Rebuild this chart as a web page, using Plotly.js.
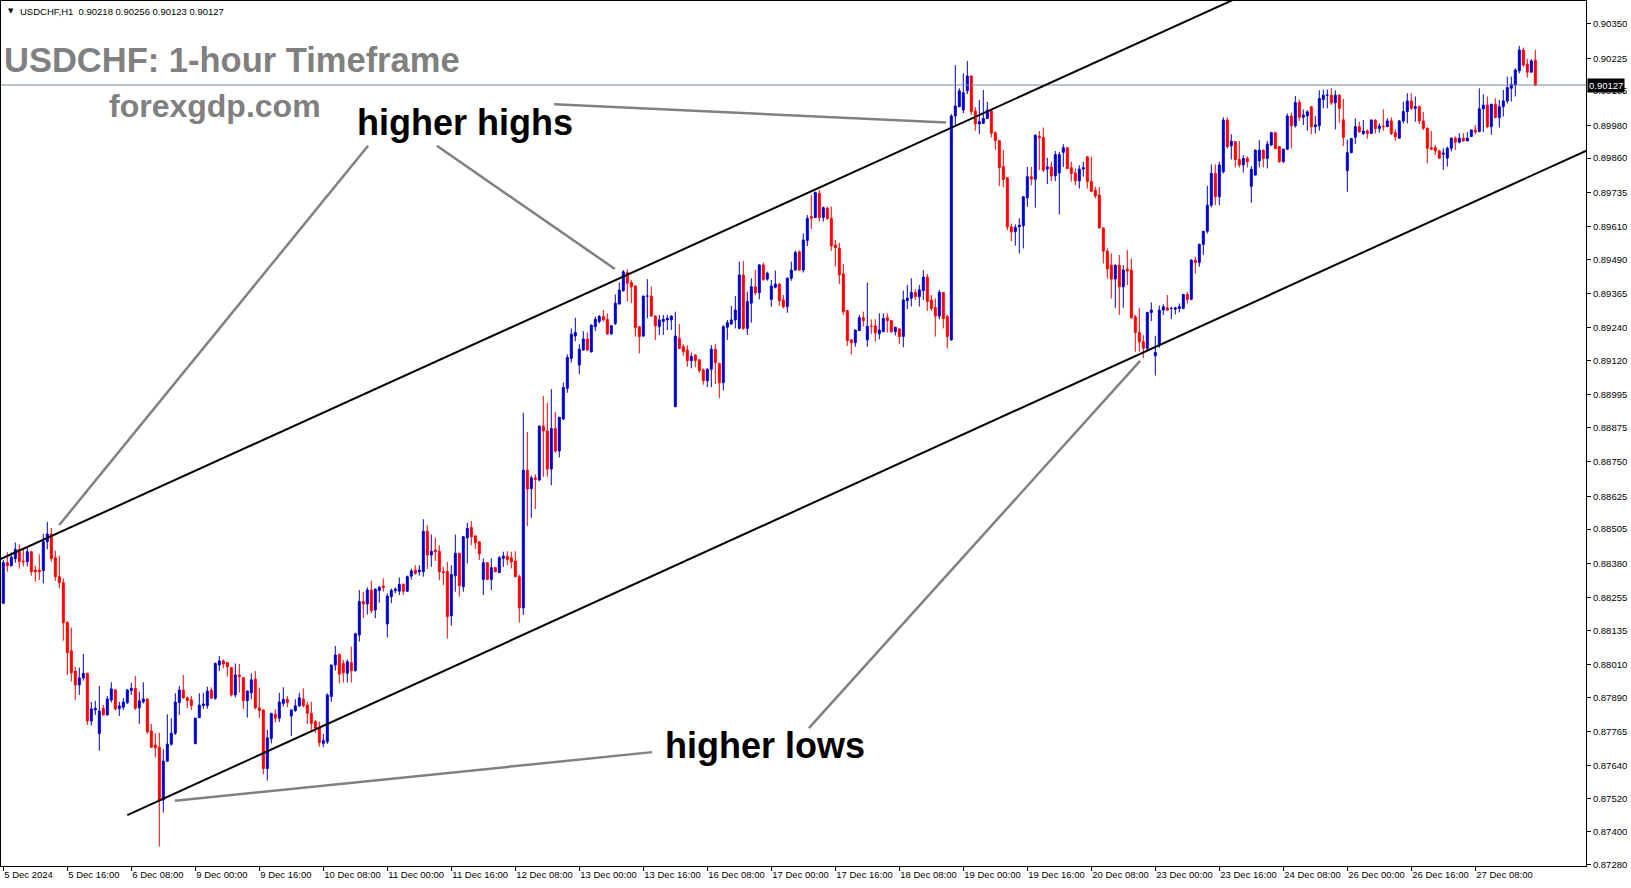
<!DOCTYPE html>
<html><head><meta charset="utf-8">
<script src="https://cdn.plot.ly/plotly-3.0.1.min.js"></script>
<style>html,body{margin:0;padding:0;background:#fff}#chart{width:1631px;height:888px}</style>
</head><body><div id="chart"></div>
<script>
// USDCHF H1 candles, 5 Dec 2024 00:00 -> 27 Dec 2024 23:00 (one entry per hourly bar)
const openP = [
.88234,.88382,.88371,.88397,.88431,.88387,.88386,.88422,.88355,.88355,.88353,.88459,.88487,.88400,.88331,.88309,
.88163,.88060,.87986,.87935,.87961,.87978,.87804,.87844,.87758,.87850,.87826,.87880,.87917,.87849,.87854,.87871,
.87915,.87923,.87852,.87874,.87884,.87767,.87716,.87708,.87515,.87657,.87719,.87759,.87871,.87917,.87889,.87881,
.87721,.87816,.87860,.87860,.87917,.87887,.88008,.88023,.88017,.87999,.87899,.87972,.87962,.87878,.87907,.87957,
.87852,.87844,.87630,.87740,.87828,.87814,.87868,.87883,.87822,.87842,.87859,.87884,.87862,.87832,.87801,.87781,
.87722,.87728,.87893,.88008,.88047,.88014,.87978,.88017,.87988,.88118,.88240,.88231,.88282,.88209,.88280,.88297,
.88158,.88258,.88280,.88278,.88303,.88278,.88333,.88355,.88349,.88349,.88497,.88410,.88428,.88424,.88349,.88349,
.88188,.88334,.88416,.88294,.88473,.88511,.88480,.88458,.88321,.88382,.88321,.88364,.88346,.88398,.88406,.88400,
.88388,.88331,.88217,.88720,.88653,.88692,.88684,.88881,.88863,.88724,.88872,.88790,.88907,.89019,.89128,.89210,
.89104,.89159,.89199,.89152,.89244,.89263,.89281,.89271,.89218,.89256,.89327,.89376,.89442,.89405,.89393,.89244,
.89210,.89356,.89356,.89283,.89244,.89263,.89269,.89269,.88952,.89202,.89171,.89159,.89120,.89141,.89123,.89086,
.89047,.89089,.89162,.89110,.89040,.89242,.89254,.89269,.89238,.89433,.89238,.89330,.89390,.89368,.89470,.89418,
.89344,.89388,.89400,.89342,.89317,.89421,.89451,.89518,.89451,.89559,.89646,.89643,.89731,.89643,.89677,.89640,
.89543,.89531,.89437,.89303,.89196,.89186,.89230,.89277,.89196,.89247,.89247,.89218,.89226,.89277,.89266,.89226,
.89236,.89208,.89339,.89348,.89369,.89354,.89376,.89425,.89342,.89314,.89283,.89369,.89281,.89196,.90014,.90048,
.90036,.90106,.90160,.90032,.89985,.89987,.90005,.90033,.89953,.89924,.89829,.89788,.89609,.89591,.89609,.89613,
.89715,.89792,.89783,.89940,.89935,.89820,.89828,.89795,.89806,.89881,.89898,.89825,.89806,.89777,.89820,.89865,
.89774,.89743,.89725,.89605,.89520,.89469,.89418,.89469,.89390,.89455,.89451,.89280,.89223,.89189,.89165,.89296,
.89138,.89177,.89305,.89313,.89311,.89308,.89311,.89311,.89362,.89344,.89487,.89479,.89545,.89593,.89688,.89804,
.89719,.89810,.89999,.89905,.89920,.89855,.89835,.89859,.89757,.89798,.89850,.89889,.89859,.89908,.89953,.89902,
.89847,.89892,.90014,.89978,.90063,.90009,.90014,.90048,.89975,.89978,.90074,.90090,.90090,.90062,.90090,.90000,
.89814,.89880,.89936,.89975,.89950,.89959,.89950,.89999,.89968,.89977,.89975,.89996,.89953,.89933,.89996,.90030,
.90069,.90042,.90048,.89996,.89969,.89898,.89898,.89886,.89874,.89860,.89896,.89933,.89918,.89933,.89923,.89939,
.89963,.89957,.90040,.90054,.89975,.90057,.90008,.90048,.90069,.90115,.90127,.90179,.90255,.90203,.90174,.90218
];
const highP = [
.88392,.88420,.88420,.88456,.88449,.88435,.88435,.88425,.88371,.88413,.88487,.88531,.88509,.88426,.88407,.88325,
.88169,.88145,.88002,.87999,.88049,.87980,.87873,.87877,.87932,.87862,.87895,.87945,.87920,.87874,.87887,.87921,
.87943,.87968,.87911,.87945,.87886,.87793,.87759,.87761,.87700,.87828,.87814,.87905,.87932,.87972,.87893,.87895,
.87816,.87905,.87907,.87929,.87927,.88017,.88041,.88029,.88020,.88001,.88014,.88012,.87964,.87915,.87978,.87986,
.87926,.87846,.87771,.87834,.87846,.87907,.87927,.87895,.87846,.87883,.87907,.87923,.87874,.87874,.87807,.87801,
.87756,.87905,.88010,.88078,.88050,.88027,.88029,.88075,.88126,.88282,.88276,.88292,.88316,.88288,.88297,.88325,
.88270,.88288,.88292,.88328,.88306,.88335,.88360,.88373,.88373,.88541,.88519,.88485,.88473,.88446,.88367,.88385,
.88373,.88485,.88418,.88480,.88528,.88534,.88482,.88460,.88398,.88384,.88398,.88366,.88407,.88422,.88424,.88422,
.88424,.88339,.88930,.88860,.88700,.88705,.88883,.88991,.88966,.89016,.88933,.88915,.89040,.89143,.89238,.89277,
.89180,.89228,.89223,.89252,.89281,.89287,.89305,.89293,.89250,.89362,.89405,.89451,.89454,.89415,.89395,.89246,
.89358,.89418,.89390,.89285,.89287,.89287,.89287,.89285,.89299,.89254,.89180,.89177,.89149,.89143,.89125,.89092,
.89092,.89177,.89181,.89112,.89250,.89269,.89320,.89356,.89482,.89485,.89372,.89421,.89451,.89472,.89478,.89445,
.89415,.89449,.89402,.89360,.89424,.89482,.89522,.89522,.89585,.89652,.89725,.89737,.89744,.89683,.89683,.89683,
.89561,.89551,.89473,.89305,.89198,.89234,.89287,.89299,.89405,.89271,.89271,.89293,.89293,.89293,.89268,.89244,
.89238,.89376,.89397,.89421,.89381,.89397,.89451,.89437,.89360,.89348,.89379,.89370,.89287,.90021,.90200,.90115,
.90170,.90215,.90162,.90046,.90072,.90109,.90066,.90036,.89957,.89926,.89890,.89790,.89621,.89618,.89640,.89721,
.89828,.89828,.89946,.89959,.89972,.89861,.89847,.89886,.89883,.89911,.89900,.89847,.89822,.89834,.89847,.89867,
.89865,.89755,.89755,.89607,.89530,.89512,.89471,.89506,.89469,.89524,.89493,.89287,.89313,.89213,.89299,.89333,
.89211,.89321,.89326,.89360,.89317,.89317,.89329,.89364,.89372,.89491,.89500,.89548,.89593,.89759,.89837,.89837,
.89847,.90009,.90009,.89947,.89922,.89922,.89871,.89867,.89831,.89892,.89926,.89892,.89923,.89956,.89956,.89904,
.89895,.90023,.90026,.90087,.90074,.90038,.90035,.90050,.90014,.90108,.90111,.90111,.90115,.90108,.90094,.90076,
.89928,.89932,.90005,.89993,.89999,.89965,.90001,.90001,.89987,.90038,.90005,.90009,.89965,.89999,.90066,.90097,
.90097,.90085,.90052,.90028,.89972,.89959,.89908,.89890,.89896,.89902,.89935,.89939,.89951,.89951,.89955,.89963,
.89981,.90115,.90093,.90085,.90057,.90079,.90073,.90109,.90158,.90158,.90188,.90270,.90264,.90222,.90222,.90256
];
const lowP = [
.88231,.88349,.88368,.88382,.88360,.88368,.88368,.88335,.88313,.88319,.88307,.88431,.88386,.88316,.88288,.88097,
.87972,.87948,.87881,.87899,.87951,.87790,.87787,.87826,.87695,.87824,.87824,.87871,.87842,.87822,.87844,.87866,
.87899,.87844,.87793,.87868,.87756,.87705,.87670,.87345,.87469,.87655,.87714,.87753,.87826,.87884,.87850,.87844,
.87719,.87814,.87848,.87848,.87884,.87881,.87986,.87996,.87966,.87893,.87890,.87908,.87848,.87816,.87883,.87846,
.87814,.87609,.87586,.87722,.87798,.87800,.87856,.87854,.87749,.87837,.87856,.87854,.87793,.87771,.87759,.87710,
.87708,.87720,.87874,.87988,.87941,.87944,.87944,.87944,.87984,.88094,.88181,.88193,.88197,.88179,.88236,.88276,
.88109,.88234,.88270,.88264,.88264,.88276,.88320,.88338,.88335,.88331,.88359,.88367,.88388,.88318,.88300,.88105,
.88152,.88276,.88258,.88276,.88379,.88446,.88432,.88392,.88264,.88318,.88282,.88347,.88344,.88367,.88373,.88361,
.88329,.88163,.88191,.88516,.88546,.88578,.88680,.88696,.88696,.88665,.88784,.88767,.88903,.89003,.89113,.89191,
.89071,.89156,.89155,.89150,.89228,.89256,.89263,.89214,.89214,.89250,.89325,.89372,.89336,.89330,.89208,.89147,
.89208,.89275,.89281,.89196,.89214,.89214,.89232,.89232,.88950,.89162,.89138,.89098,.89092,.89096,.89076,.89032,
.89023,.89023,.89035,.88983,.89011,.89196,.89250,.89238,.89235,.89232,.89214,.89259,.89360,.89344,.89412,.89412,
.89317,.89384,.89320,.89311,.89295,.89412,.89449,.89449,.89442,.89539,.89601,.89641,.89628,.89628,.89634,.89521,
.89464,.89400,.89287,.89174,.89143,.89171,.89228,.89245,.89171,.89218,.89190,.89198,.89224,.89223,.89222,.89212,
.89181,.89169,.89308,.89318,.89342,.89318,.89342,.89302,.89302,.89208,.89271,.89238,.89165,.89193,.89981,.90046,
.90024,.90094,.90018,.89960,.89948,.89985,.90002,.89936,.89890,.89758,.89753,.89597,.89557,.89540,.89512,.89530,
.89682,.89761,.89679,.89816,.89810,.89765,.89776,.89776,.89654,.89828,.89820,.89774,.89761,.89749,.89792,.89749,
.89737,.89713,.89603,.89475,.89420,.89347,.89313,.89287,.89313,.89396,.89274,.89153,.89153,.89129,.89159,.89265,
.89066,.89167,.89287,.89303,.89272,.89289,.89296,.89308,.89329,.89341,.89439,.89463,.89506,.89585,.89680,.89688,
.89688,.89804,.89895,.89855,.89826,.89826,.89807,.89826,.89697,.89796,.89826,.89826,.89822,.89904,.89892,.89843,
.89843,.89890,.89895,.89972,.89996,.89981,.89960,.89947,.89950,.89960,.90042,.90042,.90054,.89965,.89989,.89904,
.89737,.89878,.89911,.89953,.89944,.89931,.89948,.89950,.89953,.89960,.89973,.89944,.89923,.89930,.89987,.89987,
.90036,.89993,.89984,.89963,.89841,.89890,.89872,.89857,.89817,.89829,.89884,.89890,.89914,.89920,.89923,.89939,
.89947,.89955,.89955,.89969,.89945,.90006,.89972,.90012,.90060,.90067,.90085,.90170,.90194,.90154,.90174,.90123
];
const closeP = [
.88382,.88371,.88402,.88431,.88386,.88385,.88422,.88349,.88349,.88349,.88459,.88487,.88397,.88331,.88309,.88163,
.88053,.87980,.87935,.87961,.87978,.87804,.87848,.87850,.87840,.87826,.87884,.87921,.87848,.87859,.87873,.87917,
.87923,.87850,.87877,.87884,.87764,.87708,.87706,.87515,.87657,.87719,.87759,.87873,.87917,.87889,.87878,.87860,
.87814,.87862,.87866,.87913,.87887,.88014,.88023,.88012,.88002,.87899,.87972,.87966,.87878,.87913,.87954,.87852,
.87842,.87630,.87742,.87831,.87814,.87873,.87883,.87871,.87844,.87859,.87889,.87859,.87832,.87795,.87777,.87725,
.87732,.87899,.88008,.88045,.87975,.87980,.88020,.87988,.88122,.88240,.88231,.88282,.88207,.88285,.88292,.88291,
.88260,.88280,.88285,.88303,.88278,.88331,.88352,.88343,.88355,.88497,.88410,.88424,.88422,.88349,.88346,.88185,
.88339,.88416,.88298,.88477,.88507,.88477,.88455,.88415,.88382,.88321,.88364,.88349,.88400,.88406,.88394,.88385,
.88331,.88217,.88720,.88651,.88692,.88686,.88881,.88863,.88724,.88872,.88790,.88913,.89022,.89132,.89217,.89223,
.89162,.89199,.89159,.89250,.89271,.89281,.89269,.89218,.89248,.89330,.89378,.89445,.89403,.89390,.89241,.89208,
.89356,.89356,.89283,.89247,.89269,.89271,.89275,.89283,.89210,.89165,.89153,.89120,.89135,.89120,.89084,.89047,
.89089,.89162,.89113,.89040,.89244,.89259,.89269,.89305,.89433,.89238,.89336,.89390,.89368,.89470,.89417,.89439,
.89393,.89400,.89339,.89317,.89421,.89451,.89515,.89451,.89561,.89640,.89640,.89735,.89643,.89679,.89640,.89539,
.89533,.89433,.89299,.89193,.89186,.89232,.89277,.89266,.89245,.89245,.89222,.89232,.89274,.89266,.89226,.89242,
.89208,.89342,.89348,.89369,.89354,.89379,.89425,.89336,.89311,.89283,.89370,.89274,.89208,.90014,.90050,.90106,
.90099,.90160,.90030,.89985,.89993,.90005,.90036,.89951,.89924,.89826,.89783,.89609,.89591,.89607,.89615,.89719,
.89792,.89783,.89944,.89934,.89816,.89828,.89795,.89873,.89873,.89898,.89822,.89804,.89777,.89820,.89825,.89774,
.89739,.89722,.89605,.89520,.89455,.89418,.89469,.89390,.89451,.89448,.89277,.89223,.89189,.89165,.89296,.89305,
.89150,.89305,.89317,.89305,.89311,.89313,.89317,.89362,.89344,.89487,.89479,.89545,.89593,.89688,.89804,.89719,
.89835,.89999,.89902,.89922,.89855,.89835,.89859,.89847,.89819,.89889,.89889,.89859,.89911,.89953,.89895,.89847,
.89892,.90014,.89978,.90063,.90009,.90017,.90029,.89975,.89981,.90078,.90090,.90090,.90062,.90090,.90042,.89936,
.89880,.89932,.89975,.89956,.89959,.89950,.89999,.89968,.89977,.89975,.89996,.89950,.89938,.89996,.90030,.90069,
.90042,.90048,.89996,.89969,.89896,.89892,.89886,.89860,.89878,.89896,.89933,.89918,.89933,.89923,.89933,.89963,
.89955,.90040,.90054,.89975,.90057,.90008,.90048,.90069,.90118,.90130,.90182,.90255,.90200,.90174,.90215,.90127
];

// time-axis labels (one every 16 hourly bars) and their bar numbers
const xTickBars = [0,16,32,48,64,80,96,112,128,144,160,176,192,208,224,240,256,272,288,304,320,336,352,368];
const xTickLabels = ['5 Dec 2024','5 Dec 16:00','6 Dec 08:00','9 Dec 00:00','9 Dec 16:00','10 Dec 08:00',
  '11 Dec 00:00','11 Dec 16:00','12 Dec 08:00','13 Dec 00:00','13 Dec 16:00','16 Dec 08:00','17 Dec 00:00',
  '17 Dec 16:00','18 Dec 08:00','19 Dec 00:00','19 Dec 16:00','20 Dec 08:00','23 Dec 00:00','23 Dec 16:00',
  '24 Dec 08:00','26 Dec 00:00','26 Dec 16:00','27 Dec 08:00'];
// price-axis tick values
const yTickValues = [0.90350,0.90225,0.90105,0.89980,0.89860,0.89735,0.89610,0.89490,0.89365,0.89240,0.89120,
  0.88995,0.88875,0.88750,0.88625,0.88505,0.88380,0.88255,0.88135,0.88010,0.87890,0.87765,0.87640,0.87520,
  0.87400,0.87280];

// channel lines [bar, price] and pointer lines [bar0, price0, bar1, price1]
const channelUpper = [[-1, 0.88393], [310, 0.90455]];
const channelLower = [[31, 0.87460], [396, 0.89889]];
const pointerLines = [
  [91.2, 0.89905, 14.0, 0.88520],
  [108.4, 0.89905, 152.9, 0.89455],
  [137.7, 0.90057, 235.7, 0.89990],
  [162.2, 0.87690, 42.9, 0.87512],
  [201.4, 0.87778, 284.2, 0.89119]
];
const lastPrice = 0.90127;
const headerText = 'USDCHF,H1\u00a0\u00a00.90218 0.90256 0.90123 0.90127';

const barIndex = closeP.map((_, i) => i);
const FONT = '"Liberation Sans", Arial, sans-serif';

const trace = {
  type: 'candlestick',
  x: barIndex, open: openP, high: highP, low: lowP, close: closeP,
  increasing: {line: {color: '#0000CD', width: 1}, fillcolor: '#0000CD'},
  decreasing: {line: {color: '#FF0000', width: 1}, fillcolor: '#FF0000'},
  whiskerwidth: 0,
  hoverinfo: 'skip',
  showlegend: false
};

const shapes = [];
shapes.push({type: 'line', xref: 'paper', yref: 'y', x0: 0, x1: 1, y0: lastPrice, y1: lastPrice,
  line: {color: '#778899', width: 1}});
[channelUpper, channelLower].forEach(c => shapes.push({type: 'line', xref: 'x', yref: 'y',
  x0: c[0][0], y0: c[0][1], x1: c[1][0], y1: c[1][1], line: {color: '#000000', width: 2}}));
pointerLines.forEach(p => shapes.push({type: 'line', xref: 'x', yref: 'y',
  x0: p[0], y0: p[1], x1: p[2], y1: p[3], line: {color: '#808080', width: 2.5}}));

const annotations = [
  {text: '\u25BC', x: 0.7, y: 0.90397, xref: 'x', yref: 'y', xanchor: 'left', yanchor: 'middle',
   showarrow: false, font: {family: 'DejaVu Sans', size: 7, color: '#000'}},
  {text: headerText, x: 3.7, y: 0.90397, xref: 'x', yref: 'y', xanchor: 'left', yanchor: 'middle',
   showarrow: false, font: {family: FONT, size: 9.5, color: '#000'}},
  {text: '<b>USDCHF: 1-hour Timeframe</b>', x: -0.3, y: 0.90220, xref: 'x', yref: 'y', xanchor: 'left',
   yanchor: 'middle', showarrow: false, font: {family: FONT, size: 34.5, color: '#808080'}},
  {text: '<b>forexgdp.com</b>', x: 26.0, y: 0.90050, xref: 'x', yref: 'y', xanchor: 'left',
   yanchor: 'middle', showarrow: false, font: {family: FONT, size: 32, color: '#808080'}},
  {text: '<b>higher highs</b>', x: 88.0, y: 0.89990, xref: 'x', yref: 'y', xanchor: 'left',
   yanchor: 'middle', showarrow: false, font: {family: FONT, size: 36, color: '#000'}},
  {text: '<b>higher lows</b>', x: 165.0, y: 0.87716, xref: 'x', yref: 'y', xanchor: 'left',
   yanchor: 'middle', showarrow: false, font: {family: FONT, size: 36, color: '#000'}},
  {text: lastPrice.toFixed(5), x: 1, y: lastPrice, xref: 'paper', yref: 'y', xanchor: 'left',
   yanchor: 'middle', xshift: 1, showarrow: false, bgcolor: '#000', borderpad: 1,
   font: {family: FONT, size: 9.5, color: '#fff'}}
];

const axisCommon = {
  showgrid: false, zeroline: false, showline: true, mirror: true, linecolor: '#000', linewidth: 1,
  ticks: 'outside', ticklen: 4, tickcolor: '#000', tickwidth: 1, fixedrange: true,
  tickfont: {family: FONT, size: 9.5, color: '#000'}
};

const layout = {
  width: 1631, height: 888,
  margin: {l: 1, r: 45, t: 1, b: 22, pad: 0},
  paper_bgcolor: '#ffffff', plot_bgcolor: '#ffffff',
  showlegend: false, hovermode: false,
  boxgap: 0.3,
  xaxis: Object.assign({}, axisCommon, {
    type: 'linear', range: [-0.575, 395.675], rangeslider: {visible: false},
    tickmode: 'array', tickvals: xTickBars, ticktext: xTickLabels,
    ticklabelposition: 'outside right', tickangle: 0, automargin: false
  }),
  yaxis: Object.assign({}, axisCommon, {
    side: 'right', range: [0.87274, 0.90434], automargin: false,
    tickmode: 'array', tickvals: yTickValues, ticktext: yTickValues.map(v => v.toFixed(5))
  }),
  shapes: shapes,
  annotations: annotations
};

Plotly.newPlot('chart', [trace], layout, {staticPlot: true, displayModeBar: false});
</script>
</body></html>
